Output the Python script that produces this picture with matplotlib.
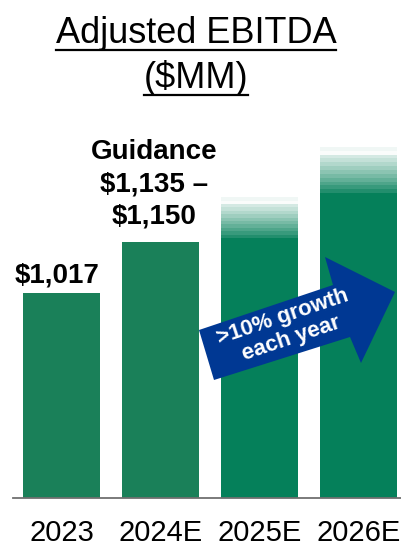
import matplotlib
matplotlib.use("Agg")
import matplotlib.pyplot as plt
from matplotlib.patches import Polygon
import numpy as np

plt.rcParams['font.family'] = ['Liberation Sans', 'DejaVu Sans']

# ---- data ----
categories = ["2023", "2024E", "2025E", "2026E"]
solid_values = [1017, 1142.5, 1152, 1262]        # solid part of each bar
fade_tops = [None, None, 1252, 1375]             # top of the faded projection
bar_colors = ["#1a8059", "#1a8059", "#05805a", "#05805a"]
label_2023 = "$1,017"
label_2024 = "Guidance\n$1,135 –\n$1,150"
arrow_text = ">10% growth\neach year"
title_lines = ["Adjusted EBITDA", "($MM)"]

W, H = 402, 548
fig = plt.figure(figsize=(W / 100, H / 100), dpi=100)
ax = fig.add_axes([13 / W, 50 / H, 389 / W, 398 / H])

x = np.arange(len(categories))
width = 0.78
ymin, ymax = 515, 1490
ax.bar(x, np.array(solid_values) - ymin, bottom=ymin, width=width,
       color=bar_colors, zorder=2)

# faded projection parts (stepped gradient)
nsteps = 12
for xi, base, top, col in zip(x, solid_values, fade_tops, bar_colors):
    if top is None:
        continue
    edges = np.linspace(base, top, nsteps + 1)
    for i in range(nsteps):
        a = 0.9 * (1 - (i + 0.5) / nsteps) ** 1.2 + 0.03
        if i == nsteps - 2:
            a = 0.02
        if i == nsteps - 1:
            a = 0.06
        ax.bar(xi, edges[i + 1] - edges[i], bottom=edges[i], width=width,
               color=col, alpha=a, linewidth=0, zorder=2)

ax.set_xlim(-0.49, 3.44)
ax.set_ylim(ymin, ymax)
for s in ["top", "right", "left"]:
    ax.spines[s].set_visible(False)
ax.spines["bottom"].set_color("#707070")
ax.spines["bottom"].set_linewidth(1.3)
ax.set_yticks([])
ax.set_xticks(x)
ax.set_xticklabels(categories, fontsize=21)
ax.tick_params(axis="x", length=0, pad=15)

# value labels
ax.text(x[0] - 0.04, solid_values[0] + 10, label_2023, ha="center", va="bottom",
        fontsize=20, fontweight="bold")
ax.text(x[1] - 0.06, solid_values[1] + 30, label_2024, ha="center", va="bottom",
        fontsize=20, fontweight="bold", linespacing=1.32)

# growth arrow (decoration, figure pixel coords)
pts = [(199, 330), (333, 285), (325, 257), (395, 292), (361, 363), (350, 337), (214, 380)]
poly = Polygon([(px / W, 1 - py / H) for px, py in pts], closed=True,
               facecolor="#003893", edgecolor="none", transform=fig.transFigure, zorder=5)
fig.patches.append(poly)
fig.text(287 / W, 1 - 328 / H, arrow_text, ha="center", va="center", rotation=18.6,
         color="white", fontsize=16, fontweight="bold", linespacing=1.15,
         rotation_mode="anchor", zorder=6)

# title with underline
t1 = fig.text(196 / W, 1 - 43 / H, title_lines[0], ha="center", va="baseline", fontsize=26)
t2 = fig.text(196 / W, 1 - 88 / H, title_lines[1], ha="center", va="baseline", fontsize=26)
fig.canvas.draw()
r = fig.canvas.get_renderer()
for t, uy in [(t1, 50), (t2, 95)]:
    bb = t.get_window_extent(r)
    x0, x1 = bb.x0 / W, bb.x1 / W
    fig.add_artist(plt.Line2D([x0, x1], [1 - uy / H, 1 - uy / H], color="black",
                              linewidth=1.6, transform=fig.transFigure))

fig.savefig("out.png", dpi=100)
